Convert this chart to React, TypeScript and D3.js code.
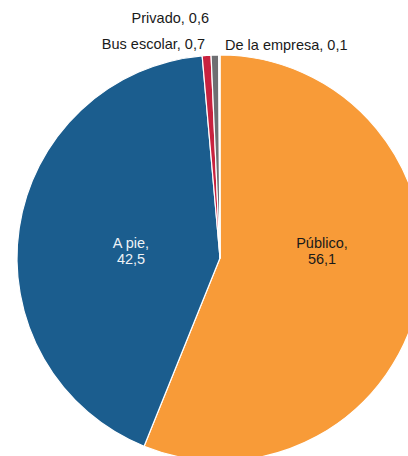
import React from "react";
import * as d3 from "d3";

const categories = ["Público", "A pie", "Bus escolar", "Privado", "De la empresa"];
const values = [56.1, 42.5, 0.7, 0.6, 0.1];
const valueLabels = ["56,1", "42,5", "0,7", "0,6", "0,1"];
const colors = ["#f89b38", "#1b5d8e", "#c8223f", "#6e6f72", "#a9a9ab"];

const W = 408;
const H = 456;
const cx = 220;
const cy = 258;
const R = 203;
const FONT = "'Liberation Sans', Arial, sans-serif";

export default function App() {
  const data = categories.map((c, i) => ({ c, v: values[i], l: valueLabels[i], col: colors[i] }));
  const pie = d3.pie<any>().value((d) => d.v).sort(null).startAngle(0).endAngle(2 * Math.PI);
  const arcs = pie(data);
  const arc = d3.arc<any>().innerRadius(0).outerRadius(R);

  // inside labels
  const inside = [
    { i: 0, dx: 102, fill: "#1a1a1a" },
    { i: 1, dx: -89, fill: "#eef2f6" },
  ];
  // outside labels: anchor, x offset, baseline y
  const outside = [
    { i: 2, x: cx - 15, y: 49, anchor: "end" },
    { i: 3, x: cx - 11, y: 23, anchor: "end" },
    { i: 4, x: cx + 5, y: 50, anchor: "start" },
  ];

  return (
    <svg
      width={W}
      height={H}
      style={{ position: "absolute", left: 0, top: 0, background: "#fff" }}
    >
      <g transform={`translate(${cx},${cy})`}>
        {arcs.map((a, i) => (
          <path key={i} d={arc(a) as string} fill={data[i].col} stroke="#fff" strokeWidth={1.2} strokeLinejoin="round" />
        ))}
      </g>
      {inside.map((o) => (
        <text
          key={o.i}
          x={cx + o.dx}
          textAnchor="middle"
          fontFamily={FONT}
          fontSize={14.5}
          fill={o.fill}
        >
          <tspan x={cx + o.dx} y={247.5}>{categories[o.i] + ","}</tspan>
          <tspan x={cx + o.dx} y={264}>{valueLabels[o.i]}</tspan>
        </text>
      ))}
      {outside.map((o) => (
        <text
          key={o.i}
          x={o.x}
          y={o.y}
          textAnchor={o.anchor as any}
          fontFamily={FONT}
          fontSize={14.5}
          fill="#1a1a1a"
        >
          {categories[o.i] + ", " + valueLabels[o.i]}
        </text>
      ))}
    </svg>
  );
}
